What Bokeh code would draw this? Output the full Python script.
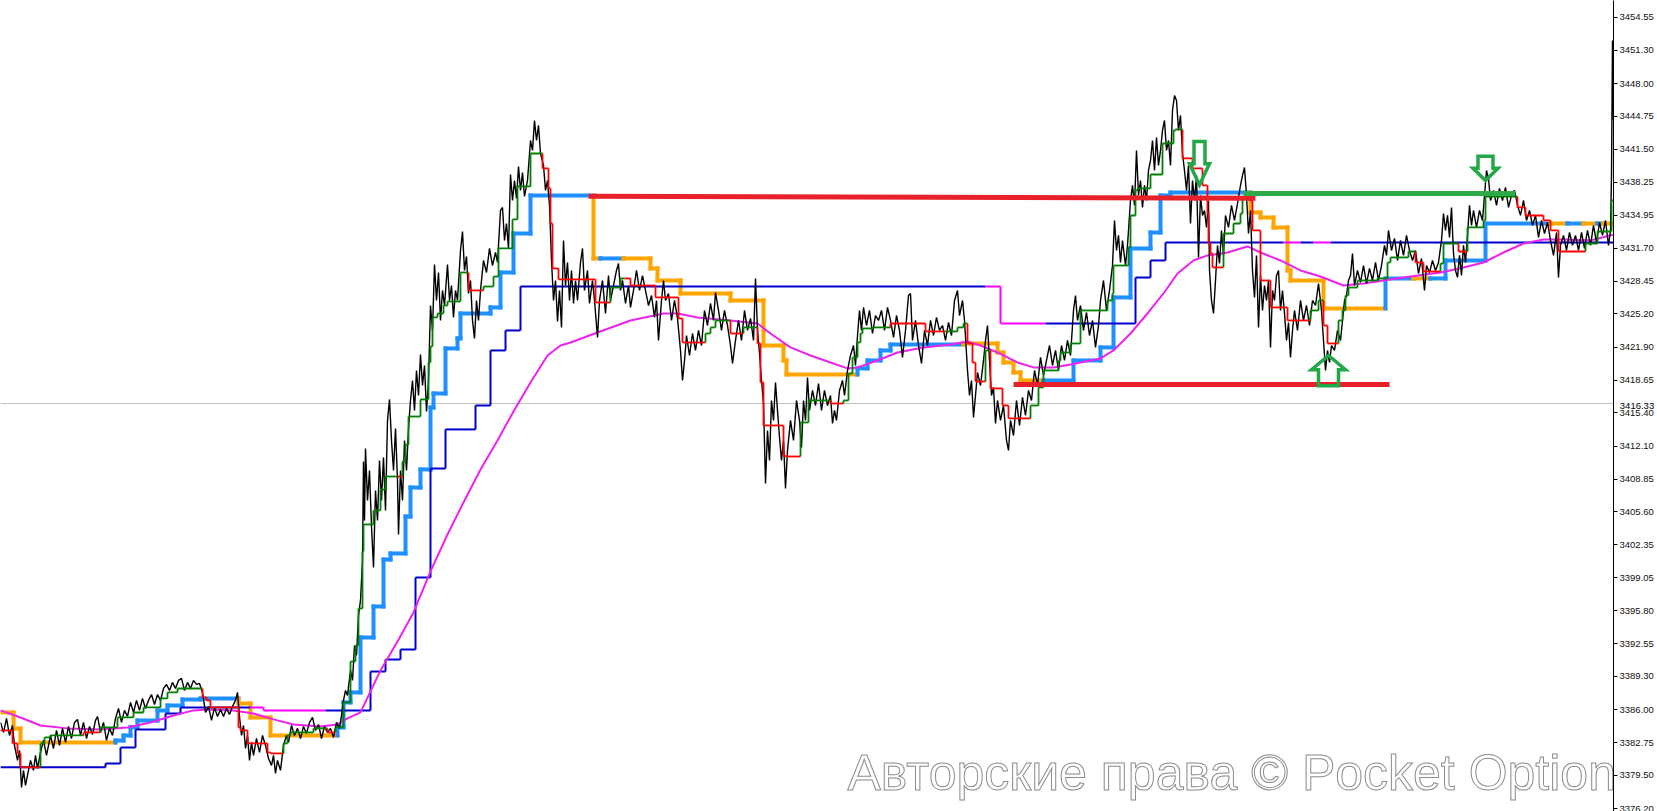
from bokeh.plotting import figure
from bokeh.models import Range1d, FixedTicker, NumeralTickFormatter, Span
from bokeh.embed import file_html
from bokeh.resources import INLINE
from bokeh.core.properties import value

# ---------------- data (bar index, price) ----------------
tick_values = [3454.55, 3451.30, 3448.00, 3444.75, 3441.50, 3438.25, 3434.95, 3431.70,
               3428.45, 3425.20, 3421.90, 3418.65, 3415.40, 3412.10, 3408.85, 3405.60,
               3402.35, 3399.05, 3395.80, 3392.55, 3389.30, 3386.00, 3382.75, 3379.50, 3376.20]
current_price = 3416.33
watermark = "Авторские права © Pocket Option"

price_pts = [
    (0, 3384.75), (3, 3383.76), (6, 3385.15), (9, 3383.46), (12, 3384.45), (14, 3382.47), (17, 3380.99),
    (19, 3381.98), (21, 3378.32), (23, 3380.00), (25, 3378.51), (27, 3379.50), (30, 3380.99), (33, 3380.00),
    (35, 3381.48), (37, 3380.20), (40, 3381.78), (43, 3382.97), (46, 3381.48), (50, 3383.46), (53, 3382.17),
    (56, 3383.96), (59, 3382.47), (62, 3384.16), (65, 3382.77), (68, 3384.35), (71, 3383.16), (74, 3384.75),
    (77, 3385.05), (80, 3383.46), (83, 3384.75), (86, 3383.16), (89, 3384.35), (92, 3383.56), (95, 3384.95),
    (97, 3385.34), (100, 3383.76), (103, 3384.75), (106, 3382.97), (109, 3384.16), (112, 3383.46), (115, 3385.15),
    (118, 3386.13), (121, 3384.75), (124, 3385.94), (127, 3385.34), (130, 3386.73), (133, 3385.74), (136, 3386.93),
    (139, 3385.94), (142, 3387.13), (145, 3386.13), (148, 3386.93), (151, 3387.52), (154, 3386.53), (157, 3387.52),
    (160, 3386.93), (163, 3388.11), (166, 3388.51), (169, 3387.92), (172, 3388.71), (175, 3388.11), (178, 3388.91),
    (181, 3389.11), (184, 3387.92), (187, 3388.71), (190, 3388.11), (193, 3388.91), (196, 3388.51), (199, 3388.61),
    (202, 3387.72), (205, 3385.74), (208, 3386.33), (211, 3384.95), (214, 3386.23), (217, 3385.34), (220, 3386.04),
    (223, 3385.34), (226, 3386.13), (229, 3385.54), (232, 3386.33), (235, 3386.93), (237, 3387.72), (239, 3385.34),
    (241, 3383.46), (243, 3384.45), (245, 3382.17), (247, 3383.46), (249, 3380.99), (251, 3382.77), (253, 3381.48),
    (256, 3383.16), (259, 3381.78), (262, 3383.46), (265, 3382.47), (268, 3381.18), (271, 3380.49), (273, 3381.48),
    (275, 3379.70), (277, 3380.99), (280, 3380.00), (283, 3382.47), (286, 3383.46), (288, 3382.77), (291, 3384.45),
    (294, 3383.46), (297, 3384.16), (300, 3383.16), (303, 3384.35), (306, 3383.66), (309, 3384.75), (312, 3385.25),
    (315, 3383.96), (318, 3384.55), (321, 3383.16), (324, 3384.35), (327, 3383.76), (330, 3384.16), (333, 3383.26),
    (336, 3384.75), (339, 3384.16),
    (341, 3385.44), (343, 3386.93), (345, 3387.92), (347, 3387.42), (350, 3389.90), (352, 3388.91), (354, 3392.37),
    (356, 3391.38), (358, 3395.34), (360, 3396.83), (362, 3400.79), (363, 3410.59), (364, 3404.75), (365, 3411.88),
    (367, 3406.73), (369, 3409.70), (371, 3404.15), (373, 3400.09), (375, 3407.72), (377, 3404.75), (379, 3410.69),
    (381, 3406.73), (383, 3410.99), (385, 3405.74), (387, 3414.65), (389, 3416.73), (391, 3412.67), (393, 3409.70),
    (395, 3413.86), (397, 3408.71), (398, 3403.36), (400, 3409.70), (402, 3406.73), (404, 3412.67), (406, 3409.70),
    (408, 3413.86), (410, 3416.63), (412, 3418.61), (414, 3415.64), (416, 3419.60), (418, 3417.12), (420, 3421.18),
    (422, 3418.11), (424, 3420.09), (426, 3415.54), (428, 3418.61), (430, 3426.03), (432, 3423.56), (434, 3430.09),
    (436, 3426.53), (438, 3429.30), (440, 3424.55), (442, 3427.52), (444, 3426.03), (447, 3430.09), (449, 3426.53),
    (451, 3428.01), (453, 3424.85), (455, 3427.52), (457, 3426.53), (460, 3431.48), (462, 3433.36), (464, 3429.50),
    (466, 3430.89), (468, 3427.22), (470, 3428.51), (472, 3424.55), (474, 3422.77), (476, 3426.53), (478, 3424.55),
    (480, 3427.52), (483, 3430.49), (486, 3429.30), (489, 3431.68), (492, 3429.99), (495, 3431.28), (497, 3430.29),
    (500, 3435.44), (502, 3435.74), (504, 3432.47), (506, 3434.15), (508, 3431.68), (510, 3439.00), (512, 3436.43),
    (514, 3438.41), (516, 3436.63), (518, 3439.80), (520, 3437.42), (522, 3439.20), (524, 3436.83), (527, 3438.41),
    (530, 3442.37), (532, 3441.38), (534, 3444.35), (536, 3442.37), (538, 3443.86), (540, 3441.08), (543, 3439.90),
    (545, 3437.42), (547, 3438.41), (549, 3435.94), (551, 3430.49), (553, 3426.53), (555, 3428.51), (557, 3424.45),
    (559, 3427.52),
    (561, 3423.86), (563, 3432.47), (565, 3428.01), (567, 3430.29), (569, 3426.53), (571, 3429.50), (573, 3426.23),
    (575, 3428.51), (577, 3426.53), (580, 3430.29), (582, 3431.68), (584, 3427.52), (587, 3429.50), (589, 3426.23),
    (592, 3428.51), (594, 3426.53), (597, 3422.87), (599, 3426.53), (602, 3428.51), (605, 3425.24), (608, 3429.00),
    (610, 3426.53), (613, 3428.01), (616, 3429.50), (618, 3430.19), (620, 3427.52), (622, 3428.51), (625, 3426.23),
    (628, 3428.01), (630, 3425.84), (633, 3427.52), (636, 3429.50), (639, 3427.52), (642, 3429.00), (645, 3427.52),
    (648, 3426.03), (651, 3427.02), (654, 3424.85), (656, 3426.53), (658, 3422.57), (661, 3426.53), (663, 3428.51),
    (665, 3426.53), (668, 3427.22), (671, 3424.55), (674, 3426.53), (677, 3424.75), (680, 3421.58), (682, 3418.61),
    (684, 3420.59), (686, 3423.06), (689, 3421.08), (692, 3423.26), (695, 3421.58), (698, 3423.56), (701, 3422.07),
    (704, 3425.54), (707, 3424.05), (710, 3426.23), (713, 3424.55), (715, 3427.32), (718, 3425.54), (721, 3423.56),
    (724, 3425.54), (727, 3424.05), (730, 3422.07), (732, 3420.29), (735, 3422.57), (738, 3424.55), (741, 3422.57),
    (744, 3425.54), (747, 3423.56), (750, 3424.75), (753, 3422.57), (755, 3428.71), (757, 3423.56), (759, 3421.28),
    (761, 3418.61), (763, 3416.33), (765, 3408.41), (767, 3413.66), (769, 3410.69), (771, 3416.63), (773, 3414.65),
    (775, 3418.41), (777, 3415.64), (779, 3412.97), (781, 3410.69), (783, 3412.67), (785, 3407.92), (787, 3411.68),
    (790, 3414.65), (793, 3412.67), (796, 3416.63), (799, 3414.65),
    (801, 3411.98), (803, 3416.63), (805, 3414.65), (807, 3418.91), (809, 3415.64), (812, 3417.62), (815, 3416.13),
    (818, 3418.31), (821, 3415.64), (824, 3417.62), (827, 3416.13), (830, 3417.12), (832, 3414.35), (834, 3415.64),
    (836, 3414.65), (839, 3417.62), (842, 3418.61), (844, 3417.12), (847, 3419.60), (850, 3421.08), (853, 3422.07),
    (855, 3420.09), (857, 3423.06), (859, 3425.54), (861, 3423.56), (863, 3425.84), (866, 3424.05), (869, 3425.54),
    (872, 3423.26), (875, 3425.04), (878, 3424.55), (881, 3425.54), (884, 3423.56), (887, 3425.84), (890, 3424.55),
    (893, 3422.87), (896, 3425.04), (899, 3423.56), (902, 3420.89), (905, 3423.56), (908, 3427.02), (910, 3427.22),
    (912, 3422.57), (915, 3424.55), (918, 3422.07), (921, 3420.29), (924, 3423.56), (927, 3422.07), (930, 3424.55),
    (933, 3423.06), (936, 3424.85), (939, 3423.56), (942, 3424.05), (945, 3422.57), (948, 3424.35), (951, 3423.06),
    (954, 3426.53), (957, 3427.52), (959, 3425.04), (962, 3426.53), (964, 3424.55), (967, 3419.60), (969, 3417.12),
    (971, 3418.61), (973, 3414.95), (975, 3417.12), (977, 3419.40), (980, 3418.11), (983, 3420.59), (985, 3422.57),
    (987, 3424.05), (989, 3420.59), (991, 3417.12), (993, 3417.92), (995, 3414.35), (997, 3416.63), (1000, 3414.65),
    (1003, 3416.13), (1006, 3412.67), (1008, 3411.68), (1010, 3414.65), (1013, 3413.16), (1016, 3416.63),
    (1019, 3414.15), (1022, 3416.93), (1025, 3415.14), (1028, 3417.62), (1031, 3416.63), (1034, 3419.60),
    (1037, 3418.11), (1040, 3420.89), (1043, 3419.10), (1046, 3420.59), (1049, 3422.07), (1052, 3420.09),
    (1055, 3421.58), (1058, 3419.60), (1061, 3422.07), (1064, 3420.59), (1067, 3422.57), (1070, 3421.08),
    (1073, 3425.54), (1075, 3427.02), (1077, 3424.55), (1080, 3426.03), (1083, 3423.56), (1086, 3425.34),
    (1089, 3423.06), (1092, 3424.55), (1095, 3421.88), (1098, 3424.05), (1100, 3426.53), (1103, 3428.51),
    (1106, 3425.54), (1109, 3427.52), (1112, 3429.99), (1114, 3434.45), (1116, 3431.48), (1118, 3432.97),
    (1120, 3430.29), (1122, 3432.47), (1125, 3429.99), (1127, 3431.98), (1130, 3436.43), (1132, 3437.92),
    (1134, 3435.94), (1136, 3441.38), (1138, 3436.93), (1140, 3438.41), (1142, 3435.74), (1144, 3437.92),
    (1146, 3436.43), (1148, 3439.40), (1150, 3440.39), (1152, 3442.37), (1154, 3439.40), (1156, 3442.67),
    (1158, 3439.90), (1160, 3441.38), (1162, 3443.36), (1164, 3444.35), (1166, 3441.38), (1168, 3442.37),
    (1170, 3439.90), (1172, 3445.34), (1174, 3446.82), (1176, 3446.33), (1178, 3443.36), (1180, 3444.85),
    (1182, 3441.08), (1184, 3439.40), (1186, 3437.42), (1188, 3439.90), (1190, 3434.15), (1192, 3438.41),
    (1194, 3436.43), (1196, 3438.91), (1198, 3430.79), (1200, 3436.93), (1202, 3434.95), (1204, 3435.44),
    (1206, 3433.76), (1208, 3436.43), (1209, 3429.50), (1211, 3426.53), (1213, 3425.24), (1215, 3428.51),
    (1217, 3431.98), (1219, 3430.19), (1221, 3433.46), (1223, 3430.98), (1225, 3434.95), (1228, 3433.76),
    (1231, 3435.94), (1234, 3434.45), (1237, 3436.13), (1240, 3437.92), (1242, 3438.91), (1244, 3439.70),
    (1246, 3436.93), (1248, 3433.16), (1250, 3435.44), (1252, 3429.50), (1254, 3426.83), (1256, 3430.99),
    (1258, 3423.86), (1260, 3429.00), (1262, 3425.54), (1264, 3428.01), (1266, 3426.53), (1268, 3428.51),
    (1270, 3421.88), (1272, 3427.52), (1274, 3426.53), (1276, 3429.00), (1278, 3429.50), (1280, 3425.54),
    (1282, 3427.52), (1284, 3425.24), (1286, 3422.57), (1288, 3424.35), (1290, 3420.89), (1292, 3423.56),
    (1294, 3425.54), (1297, 3423.56), (1300, 3426.53), (1303, 3424.55), (1306, 3426.03), (1309, 3424.05),
    (1312, 3426.53), (1315, 3426.03), (1318, 3428.21), (1321, 3425.54), (1323, 3422.57), (1325, 3419.60),
    (1327, 3421.58), (1329, 3420.39), (1331, 3422.07), (1334, 3421.58), (1337, 3423.56), (1340, 3422.57),
    (1342, 3424.55), (1344, 3426.53), (1346, 3427.02), (1348, 3428.51), (1350, 3429.00), (1352, 3431.18),
    (1354, 3428.01), (1357, 3429.50), (1360, 3428.31), (1363, 3429.99), (1366, 3428.21), (1369, 3429.70),
    (1372, 3428.51), (1375, 3430.29), (1378, 3428.51), (1381, 3429.99), (1384, 3431.98), (1386, 3430.99),
    (1388, 3433.46), (1391, 3431.48), (1394, 3432.67), (1397, 3430.49), (1400, 3432.47), (1403, 3430.99),
    (1406, 3432.97), (1409, 3431.48), (1412, 3430.49), (1415, 3431.48), (1418, 3429.20), (1421, 3430.69),
    (1424, 3427.52), (1426, 3429.99), (1429, 3429.30), (1432, 3430.49), (1435, 3429.50), (1438, 3430.29),
    (1441, 3432.47), (1443, 3435.14), (1445, 3433.46), (1447, 3434.95), (1449, 3432.77), (1451, 3435.74),
    (1453, 3431.18), (1455, 3429.50), (1457, 3428.81), (1459, 3430.99), (1461, 3429.00), (1463, 3431.98),
    (1465, 3430.29), (1467, 3432.97), (1469, 3435.94), (1471, 3433.96), (1473, 3435.44), (1476, 3433.76),
    (1479, 3435.44), (1482, 3434.45), (1484, 3436.93), (1486, 3439.40), (1488, 3438.61), (1490, 3436.43),
    (1493, 3437.42), (1496, 3435.94), (1499, 3437.62), (1502, 3436.43), (1505, 3437.72), (1508, 3435.74),
    (1511, 3436.93), (1514, 3437.42), (1517, 3435.94), (1520, 3434.95), (1523, 3436.43), (1526, 3434.45),
    (1529, 3435.44), (1532, 3433.96), (1535, 3434.95), (1538, 3432.77), (1541, 3434.45), (1544, 3433.16),
    (1547, 3434.25), (1550, 3432.47), (1553, 3430.99), (1556, 3433.26), (1558, 3428.81), (1560, 3431.98),
    (1563, 3432.97), (1566, 3431.48), (1569, 3433.26), (1572, 3431.98), (1575, 3432.97), (1578, 3431.48),
    (1581, 3433.26), (1584, 3431.68), (1587, 3433.46), (1590, 3431.98), (1593, 3433.96), (1596, 3432.27),
    (1599, 3434.25), (1602, 3432.97), (1605, 3434.45), (1608, 3431.98), (1610, 3433.46), (1611, 3438.90),
    (1612, 3452.27), (1613, 3444.35),
]

ma_pts = [
    (0, 3385.94), (20, 3385.24), (40, 3384.45), (67, 3384.16), (100, 3384.06), (127, 3384.25), (150, 3384.75),
    (173, 3385.44), (193, 3385.94), (207, 3386.04), (233, 3385.94), (253, 3385.64), (273, 3385.05), (293, 3384.55),
    (320, 3384.35), (337, 3384.55), (347, 3385.15), (360, 3385.74), (380, 3389.90), (397, 3392.77), (413, 3395.64),
    (430, 3399.70), (447, 3403.36), (463, 3406.53), (480, 3409.80), (497, 3412.67), (513, 3415.54), (530, 3418.41),
    (547, 3421.08), (560, 3422.07), (570, 3422.37), (597, 3423.36), (630, 3424.55), (663, 3425.24), (677, 3425.24),
    (697, 3424.85), (730, 3424.55), (757, 3424.25), (770, 3423.26), (790, 3421.88), (810, 3421.08), (830, 3420.39),
    (847, 3419.80), (857, 3419.90), (877, 3420.59), (897, 3421.38), (923, 3421.88), (950, 3422.17), (967, 3422.47),
    (980, 3422.07), (997, 3421.38), (1017, 3420.39), (1033, 3419.90), (1053, 3419.90), (1070, 3420.19),
    (1080, 3420.39), (1100, 3420.79), (1113, 3421.58), (1130, 3423.26), (1147, 3425.24), (1163, 3427.22),
    (1177, 3429.20), (1193, 3430.49), (1207, 3430.99), (1227, 3431.28), (1247, 3431.88), (1260, 3431.28),
    (1280, 3430.49), (1300, 3429.50), (1320, 3428.90), (1343, 3428.01), (1363, 3428.21), (1383, 3428.51),
    (1410, 3428.90), (1440, 3429.30), (1463, 3429.80), (1483, 3430.29), (1503, 3431.28), (1523, 3432.17),
    (1543, 3432.57), (1563, 3432.57), (1590, 3432.47), (1613, 3433.06),
]

# fast trailing stop: (start bar, level, trend)
fast_steps = [
    (0, 3383.96, "dn"), (12, 3382.67, "dn"), (17, 3381.68, "dn"), (20, 3380.30, "dn"),
    (40, 3382.67, "up"), (44, 3383.26, "up"), (50, 3383.46, "up"),
    (83, 3383.76, "dn"),
    (100, 3384.26, "up"), (117, 3385.24, "up"), (133, 3385.73, "up"), (143, 3386.23, "up"), (160, 3387.13, "up"),
    (167, 3387.72, "up"), (177, 3388.11, "up"),
    (202, 3387.23, "dn"), (206, 3386.93, "dn"), (210, 3386.23, "dn"), (238, 3384.25, "dn"), (240, 3383.96, "dn"),
    (247, 3382.67, "dn"), (267, 3381.78, "dn"), (270, 3381.68, "dn"),
    (283, 3382.67, "up"), (287, 3383.46, "up"), (290, 3383.76, "up"), (313, 3384.16, "up"),
    (327, 3383.76, "dn"),
    (335, 3384.26, "up"), (343, 3386.73, "up"), (350, 3390.78, "up"), (355, 3392.37, "up"), (358, 3396.03, "up"),
    (362, 3401.68, "up"), (363, 3404.35, "up"), (373, 3405.74, "up"), (380, 3407.81, "up"), (385, 3409.10, "up"),
    (397, 3409.10, "dn"),
    (402, 3410.59, "up"), (405, 3412.27, "up"), (408, 3415.04, "up"), (420, 3416.73, "up"), (428, 3420.39, "up"),
    (430, 3421.97, "up"), (432, 3424.85, "up"), (437, 3425.24, "up"), (443, 3426.03, "up"), (447, 3426.43, "up"),
    (460, 3429.30, "up"),
    (468, 3427.52, "dn"),
    (483, 3427.91, "up"), (493, 3428.90, "up"), (498, 3431.68, "up"), (512, 3434.55, "up"), (517, 3437.82, "up"),
    (530, 3441.08, "up"),
    (542, 3439.60, "dn"), (548, 3437.62, "dn"), (550, 3434.15, "dn"), (552, 3429.70, "dn"), (558, 3428.61, "dn"),
    (595, 3426.33, "dn"),
    (610, 3427.81, "up"), (620, 3428.71, "up"),
    (624, 3428.71, "dn"), (630, 3428.01, "dn"), (655, 3426.83, "dn"), (678, 3424.75, "dn"), (682, 3422.37, "dn"),
    (705, 3423.26, "up"), (710, 3423.86, "up"), (715, 3424.55, "up"),
    (730, 3423.26, "dn"),
    (743, 3423.86, "up"),
    (757, 3422.27, "dn"), (760, 3418.41, "dn"), (763, 3414.15, "dn"), (783, 3411.18, "dn"), (785, 3411.08, "dn"),
    (800, 3414.45, "up"), (808, 3416.63, "up"),
    (830, 3416.33, "dn"),
    (843, 3416.63, "up"), (848, 3419.30, "up"), (852, 3420.88, "up"), (857, 3422.37, "up"), (860, 3423.26, "up"),
    (862, 3423.76, "up"), (873, 3423.86, "up"),
    (890, 3424.25, "dn"), (925, 3423.46, "dn"),
    (945, 3423.46, "up"), (957, 3423.86, "up"), (963, 3424.25, "up"),
    (967, 3422.27, "dn"), (972, 3420.39, "dn"), (975, 3418.51, "dn"),
    (985, 3421.58, "up"),
    (990, 3417.82, "dn"), (1002, 3416.13, "dn"), (1008, 3414.85, "dn"),
    (1030, 3416.13, "up"), (1038, 3417.92, "up"), (1043, 3419.60, "up"), (1058, 3420.59, "up"), (1060, 3421.38, "up"),
    (1070, 3422.27, "up"), (1080, 3425.54, "up"), (1107, 3426.53, "up"), (1112, 3427.22, "up"), (1113, 3429.99, "up"),
    (1128, 3431.78, "up"), (1130, 3434.94, "up"), (1135, 3437.42, "up"), (1137, 3437.62, "up"), (1150, 3439.00, "up"),
    (1162, 3442.07, "up"), (1173, 3443.36, "up"), (1175, 3443.46, "up"),
    (1182, 3440.59, "dn"), (1192, 3439.60, "dn"), (1202, 3437.92, "dn"), (1207, 3435.14, "dn"), (1208, 3432.17, "dn"),
    (1210, 3431.18, "dn"), (1212, 3429.80, "dn"),
    (1223, 3433.16, "up"), (1233, 3434.15, "up"), (1240, 3435.14, "up"), (1242, 3436.73, "up"),
    (1249, 3436.43, "dn"), (1252, 3433.46, "dn"), (1260, 3428.51, "dn"), (1270, 3425.84, "dn"), (1287, 3424.55, "dn"),
    (1310, 3425.54, "up"), (1318, 3426.53, "up"),
    (1323, 3424.05, "dn"), (1327, 3422.27, "dn"),
    (1338, 3424.55, "up"), (1342, 3425.54, "up"), (1345, 3427.02, "up"), (1348, 3427.81, "up"), (1357, 3428.51, "up"),
    (1377, 3428.71, "up"), (1387, 3430.29, "up"), (1390, 3430.79, "up"), (1408, 3431.38, "up"),
    (1415, 3430.29, "dn"), (1423, 3429.40, "dn"),
    (1440, 3430.19, "up"), (1443, 3432.17, "up"),
    (1458, 3431.38, "dn"),
    (1467, 3433.76, "up"), (1483, 3434.45, "up"), (1485, 3436.82, "up"),
    (1517, 3435.74, "dn"), (1525, 3434.94, "dn"), (1543, 3434.45, "dn"), (1550, 3433.46, "dn"), (1558, 3431.38, "dn"),
    (1585, 3432.17, "up"), (1597, 3433.36, "up"), (1611, 3436.43, "up"),
]

# thick trailing stop: (start bar, level, trend)
thick_steps = [
    (0, 3385.73, "dn"), (13, 3384.16, "dn"), (20, 3382.77, "dn"),
    (115, 3382.97, "up"), (123, 3383.46, "up"), (130, 3384.26, "up"), (137, 3384.95, "up"), (157, 3385.94, "up"),
    (167, 3386.43, "up"), (182, 3387.03, "up"), (200, 3387.13, "up"),
    (238, 3386.63, "dn"), (250, 3385.24, "dn"), (270, 3383.46, "dn"),
    (337, 3384.26, "up"), (343, 3386.73, "up"), (350, 3387.72, "up"), (360, 3393.16, "up"), (373, 3396.23, "up"),
    (383, 3400.88, "up"), (390, 3401.48, "up"), (405, 3405.14, "up"), (410, 3408.01, "up"), (420, 3409.80, "up"),
    (430, 3415.93, "up"), (433, 3417.32, "up"), (445, 3421.78, "up"), (457, 3422.77, "up"), (460, 3425.24, "up"),
    (490, 3425.84, "up"), (500, 3429.30, "up"), (513, 3433.16, "up"), (530, 3436.92, "up"),
    (593, 3430.69, "dn"),
    (600, 3430.69, "up"),
    (623, 3430.69, "dn"), (650, 3429.70, "dn"), (657, 3428.51, "dn"), (680, 3427.22, "dn"), (730, 3426.53, "dn"),
    (763, 3422.07, "dn"), (783, 3420.59, "dn"), (786, 3419.20, "dn"),
    (857, 3419.80, "up"), (867, 3420.59, "up"), (880, 3421.58, "up"), (890, 3422.17, "up"),
    (963, 3422.27, "dn"), (997, 3421.38, "dn"), (1003, 3420.39, "dn"), (1013, 3419.40, "dn"), (1020, 3418.61, "dn"),
    (1043, 3418.61, "up"), (1073, 3420.59, "up"), (1100, 3421.88, "up"), (1113, 3426.83, "up"), (1130, 3431.68, "up"),
    (1150, 3433.26, "up"), (1160, 3436.92, "up"), (1170, 3437.22, "up"),
    (1250, 3435.24, "dn"), (1260, 3434.75, "dn"), (1273, 3433.76, "dn"), (1287, 3429.50, "dn"), (1290, 3428.51, "dn"),
    (1323, 3425.74, "dn"),
    (1385, 3428.71, "up"),
    (1413, 3428.71, "dn"),
    (1430, 3428.71, "up"), (1445, 3430.49, "up"), (1485, 3434.15, "up"),
    (1550, 3434.15, "dn"), (1567, 3434.15, "up"), (1583, 3434.15, "dn"), (1597, 3434.15, "up"), (1603, 3434.15, "dn"),
]

# slow trailing stop: (start bar, level, trend)
slow_steps = [
    (0, 3380.30, "up"), (105, 3380.69, "up"), (120, 3382.27, "up"), (135, 3384.06, "up"), (165, 3385.64, "up"),
    (180, 3386.23, "up"),
    (250, 3386.23, "dn"), (263, 3385.94, "dn"),
    (325, 3385.94, "up"), (370, 3389.79, "up"), (385, 3390.98, "up"), (400, 3391.97, "up"), (415, 3399.10, "up"),
    (430, 3409.89, "up"), (445, 3413.76, "up"), (475, 3416.13, "up"), (490, 3421.58, "up"), (505, 3423.56, "up"),
    (520, 3427.91, "up"),
    (985, 3427.91, "dn"), (1000, 3424.25, "dn"),
    (1045, 3424.25, "up"), (1135, 3428.80, "up"), (1150, 3430.49, "up"), (1165, 3432.27, "up"),
    (1283, 3432.27, "dn"), (1300, 3432.27, "up"), (1313, 3432.27, "dn"), (1330, 3432.27, "up"),
]

# drawn objects
resistance_bars = [588, 1255]
resistance_vals = [3436.85, 3436.65]
support_bars = [1013, 1389]
support_vals = [3418.21, 3418.21]
green_level_bars = [1243, 1515]
green_level_vals = [3437.12, 3437.12]

arrow_bars = [1199, 1485, 1328]
arrow_tips = [3437.97, 3438.41, 3421.08]
arrow_dirs = [-1, -1, 1]

LAST_BAR = 1613
Y_LOW, Y_HIGH = 3375.93, 3456.23


def step_segments(steps, colors, x_end):
    x0, y0, x1, y1, c = [], [], [], [], []
    n = len(steps)
    for i, (xs, lv, tr) in enumerate(steps):
        xe = steps[i + 1][0] if i + 1 < n else x_end
        x0.append(xs); y0.append(lv); x1.append(xe); y1.append(lv); c.append(colors[tr])
        if i + 1 < n:
            nl, ntr = steps[i + 1][1], steps[i + 1][2]
            x0.append(xe); y0.append(lv); x1.append(xe); y1.append(nl); c.append(colors[ntr])
    return dict(x0=x0, y0=y0, x1=x1, y1=y1, color=c)


p = figure(frame_width=1613, frame_height=811,
           x_range=Range1d(0, LAST_BAR), y_range=Range1d(Y_LOW, Y_HIGH),
           x_axis_location=None, y_axis_location="right",
           output_backend="svg", toolbar_location=None, min_border=0)
p.min_border_left = 0
p.min_border_top = 0
p.min_border_bottom = 0
p.grid.visible = False
p.outline_line_color = None
p.background_fill_color = "white"
p.border_fill_color = "white"

ax = p.yaxis[0]
ax.ticker = FixedTicker(ticks=tick_values)
ax.formatter = NumeralTickFormatter(format="0.00")
ax.major_tick_in = 0
ax.major_tick_out = 4
ax.minor_tick_line_color = None
ax.axis_line_color = "black"
ax.major_tick_line_color = "black"
ax.major_label_text_font = "Liberation Sans"
ax.major_label_text_font_size = "9.5px"
ax.major_label_text_color = "#111111"
ax.major_label_standoff = 2

# current price tag: axis title, centred on the axis (the frame's middle is the current price row)
ax.axis_label = f"{current_price:.2f}"
ax.axis_label_orientation = "horizontal"
ax.axis_label_text_font = "Liberation Sans"
ax.axis_label_text_font_size = "9.5px"
ax.axis_label_text_font_style = "normal"
ax.axis_label_text_color = "black"
ax.axis_label_standoff = -37

p.add_layout(Span(location=current_price, dimension="width", line_color="#c0c0c0", line_width=1, level="underlay"))

# thick orange/blue stop
ts = step_segments(thick_steps, {"up": "#1e90ff", "dn": "#ffa500"}, LAST_BAR)
p.segment(x0="x0", y0="y0", x1="x1", y1="y1", color="color", source=ts, line_width=4, line_cap="square")

# slow navy/magenta stop
ss = step_segments(slow_steps, {"up": "#0000cd", "dn": "#ff00ff"}, LAST_BAR)
p.segment(x0="x0", y0="y0", x1="x1", y1="y1", color="color", source=ss, line_width=2)

# moving average
p.line([a for a, b in ma_pts], [b for a, b in ma_pts], line_color="#ee22ee", line_width=2)

# price
p.line([a for a, b in price_pts], [b for a, b in price_pts], line_color="black", line_width=1.4)

# fast green/red stop
fs = step_segments(fast_steps, {"up": "#008000", "dn": "#ff0000"}, LAST_BAR)
p.segment(x0="x0", y0="y0", x1="x1", y1="y1", color="color", source=fs, line_width=1.8)

# drawn horizontal levels
p.line(resistance_bars, resistance_vals, line_color="#e8202a", line_width=5)
p.line(support_bars, support_vals, line_color="#e8202a", line_width=5)
p.line(green_level_bars, green_level_vals, line_color="#2eaa4a", line_width=5)

# hollow arrows
shapes = [(10, 2.1, 5.5, 4.3), (12.5, 1.2, 7.5, 2.4), (17, 1.4, 10, 3.0)]
axs, ays = [], []
for bx, tip, d, (hw, hh, sw, H) in zip(arrow_bars, arrow_tips, arrow_dirs, shapes):
    s = -d  # body extends opposite of pointing direction
    axs.append([bx, bx - hw, bx - sw, bx - sw, bx + sw, bx + sw, bx + hw])
    ays.append([tip, tip + s * hh, tip + s * hh, tip + s * H, tip + s * H, tip + s * hh, tip + s * hh])
p.patches(axs, ays, fill_alpha=0, line_color="#22a846", line_width=3.5, line_join="miter")

# watermark
p.text(x=[847], y=[3379.70], text=[watermark], text_font=value("Liberation Sans"),
       text_font_size=value("50px"), text_color="white", text_outline_color="#8c8c8c",
       text_baseline="middle", text_align="left")

open("out.html", "w").write(file_html(p, INLINE))
